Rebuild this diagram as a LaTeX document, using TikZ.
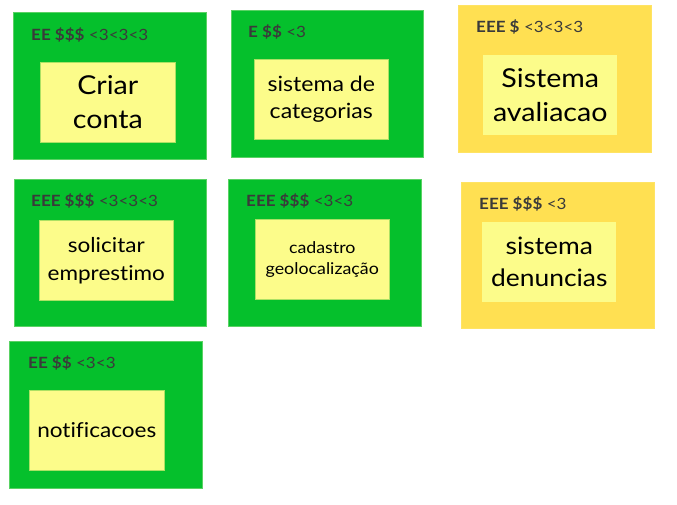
\documentclass[tikz,border=0pt]{standalone}
\usepackage{fontspec}
\setmainfont[Ligatures=NoCommon, FakeStretch=1.1]{Lato}
\definecolor{cgreen}{RGB}{5,192,44}
\definecolor{cgreenb}{RGB}{90,210,100}
\definecolor{cyellow}{RGB}{255,224,82}
\definecolor{cinner}{RGB}{252,252,138}
\definecolor{cinnerb}{RGB}{170,225,100}
\definecolor{clabel}{RGB}{58,58,58}
\tikzset{
  greenbox/.style={draw=cgreenb, line width=0.8pt, fill=cgreen, inner sep=0, anchor=north west},
  yellowbox/.style={draw=cyellow!90!white, line width=0.8pt, fill=cyellow, inner sep=0, anchor=north west},
  stickynote/.style={draw=cinnerb, line width=0.6pt, fill=cinner, inner sep=0, anchor=north west, minimum width=134pt, minimum height=80pt},
  plainnote/.style={stickynote, draw=none},
  notetext/.style={align=center, text=black, inner sep=0},
  tag/.style={anchor=west, text=clabel, inner sep=0, font=\fontsize{15.5}{18}\selectfont}
}
\begin{document}
\begin{tikzpicture}[x=1pt,y=-1pt]
\useasboundingbox (0,0) rectangle (677,505);
% outer boxes
\node[greenbox, minimum width=193pt, minimum height=147pt] (g1) at (13,12) {};
\node[greenbox, minimum width=192pt, minimum height=147pt] (g2) at (231,10) {};
\node[yellowbox, minimum width=193pt, minimum height=147pt] (y3) at (458,5) {};
\node[greenbox, minimum width=192pt, minimum height=147pt] (g4) at (14,179) {};
\node[greenbox, minimum width=193pt, minimum height=147pt] (g5) at (228,179) {};
\node[yellowbox, minimum width=193pt, minimum height=146pt] (y6) at (461,182) {};
\node[greenbox, minimum width=193pt, minimum height=147pt] (g7) at (9,341) {};
% inner notes
\node[stickynote, minimum width=135pt] (n1) at (40,62) {};
\node[stickynote] (n2) at (254,59) {};
\node[plainnote] (n3) at (483,55) {};
\node[stickynote] (n4) at (39,220) {};
\node[stickynote] (n5) at (255,219) {};
\node[plainnote] (n6) at (482,222) {};
\node[stickynote, minimum width=135pt] (n7) at (29,390) {};
% note texts
\node[notetext, font=\fontsize{26}{34}\selectfont] (t1) at (n1.center) {Criar\\conta};
\node[notetext, font=\fontsize{21}{27}\selectfont] (t2) at (n2.center) {sistema de\\categorias};
\node[notetext, font=\fontsize{26}{34}\selectfont] (t3) at (n3.center) {Sistema\\avaliacao};
\node[notetext, font=\fontsize{20.5}{28}\selectfont] (t4) at (n4.center) {solicitar\\emprestimo};
\node[notetext, font=\fontsize{16.2}{21}\selectfont] (t5) at (n5.center) {cadastro\\geolocalização};
\node[notetext, font=\fontsize{24}{32}\selectfont] (t6) at (n6.center) {sistema\\denuncias};
\node[notetext, font=\fontsize{20.5}{24}\selectfont] (t7) at (n7.center) {notificacoes};
% tags
\node[tag] (l1) at (31,35) {\textbf{EE \$\$\$} <3<3<3};
\node[tag] (l2) at (248,32) {\textbf{E \$\$} <3};
\node[tag] (l3) at (476,27) {\textbf{EEE \$} <3<3<3};
\node[tag] (l4) at (31,201) {\textbf{EEE \$\$\$} <3<3<3};
\node[tag] (l5) at (246,201) {\textbf{EEE \$\$\$} <3<3};
\node[tag] (l6) at (479,204) {\textbf{EEE \$\$\$} <3};
\node[tag] (l7) at (28,363) {\textbf{EE \$\$} <3<3};
\end{tikzpicture}
\end{document}
